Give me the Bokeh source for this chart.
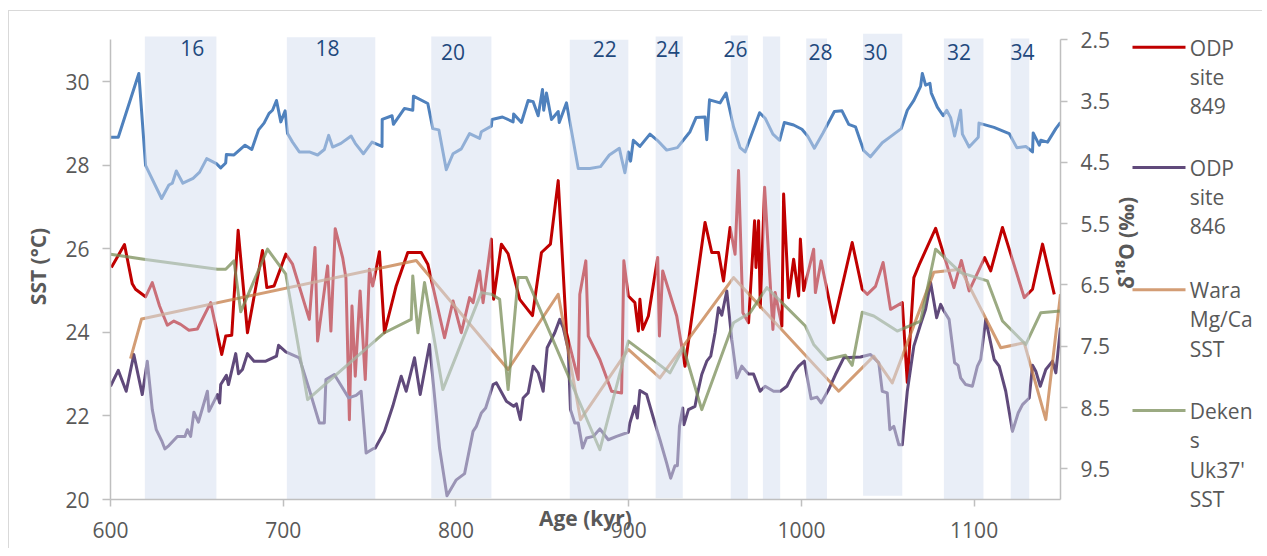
import math
from bokeh.plotting import figure
from bokeh.layouts import row
from bokeh.models import Range1d, LinearAxis, FixedTicker
from bokeh.core.properties import value
from bokeh.embed import file_html
from bokeh.resources import INLINE

# ---------------- data ----------------
d18o_age = [600.0, 604.5, 616.4, 620.3, 629.6, 633.8, 635.8, 638.1, 641.9, 647.8, 651.6, 655.7, 661.3, 663.8,
            666.7, 667.1, 671.5, 677.9, 681.8, 685.7, 688.9, 691.8, 693.8, 696.1, 698.6, 701.1, 702.5, 705.4,
            709.3, 715.1, 719.9, 723.8, 726.3, 728.6, 733.4, 739.3, 741.7, 746.4, 751.4, 757.2, 757.3, 763.0,
            763.8, 770.2, 775.0, 775.4, 783.7, 786.6, 790.1, 794.4, 798.3, 803.1, 807.9, 813.7, 814.7, 820.5,
            820.9, 826.9, 833.1, 833.4, 837.9, 841.8, 844.7, 847.6, 850.1, 850.8, 852.4, 855.3, 859.2, 859.8,
            864.0, 870.8, 877.5, 883.7, 888.8, 894.6, 895.9, 897.8, 899.8, 901.1, 902.7, 906.5, 912.3, 916.6,
            922.0, 928.2, 935.5, 939.0, 944.2, 945.2, 946.8, 952.9, 956.4, 960.7, 964.5, 967.4, 975.8, 979.0,
            983.5, 987.4, 990.1, 995.5, 1000.3, 1003.6, 1007.5, 1012.5, 1019.1, 1023.5, 1027.4, 1031.3, 1036.1,
            1040.0, 1046.8, 1051.6, 1057.8, 1061.3, 1065.1, 1069.0, 1070.0, 1071.9, 1074.4, 1075.2, 1078.7,
            1082.1, 1084.1, 1086.4, 1088.7, 1092.2, 1093.2, 1097.1, 1102.4, 1102.8, 1111.5, 1120.3, 1124.7,
            1129.9, 1133.8, 1134.2, 1137.7, 1138.6, 1142.5, 1147.3, 1150.0]
d18o = [4.09, 4.09, 3.05, 4.55, 5.09, 4.87, 4.84, 4.64, 4.84, 4.76, 4.66, 4.44, 4.52, 4.59,
        4.51, 4.37, 4.38, 4.22, 4.29, 3.97, 3.86, 3.70, 3.65, 3.49, 3.84, 3.66, 4.03, 4.17,
        4.33, 4.33, 4.38, 4.29, 4.06, 4.25, 4.19, 4.07, 4.19, 4.36, 4.17, 4.24, 3.80, 3.74,
        3.88, 3.62, 3.65, 3.42, 3.54, 3.95, 3.97, 4.62, 4.36, 4.28, 4.03, 4.11, 4.00, 3.91,
        3.80, 3.76, 3.84, 3.71, 3.85, 3.49, 3.51, 3.74, 3.31, 3.65, 3.37, 3.80, 3.67, 3.85,
        3.53, 4.60, 4.60, 4.57, 4.38, 4.27, 4.44, 4.67, 4.33, 4.48, 4.14, 4.24, 4.04, 4.14,
        4.30, 4.26, 4.00, 3.77, 3.76, 4.13, 3.48, 3.53, 3.37, 3.92, 4.26, 4.33, 3.69, 3.78,
        4.04, 4.14, 3.85, 3.89, 3.96, 4.07, 4.27, 4.02, 3.67, 3.66, 3.88, 3.92, 4.31,
        4.41, 4.18, 4.08, 3.95, 3.65, 3.49, 3.26, 3.05, 3.24, 3.21, 3.37, 3.60,
        3.74, 3.65, 3.77, 4.07, 3.65, 4.04, 4.25, 4.09, 3.86, 3.93, 4.03, 4.26,
        4.24, 4.33, 4.02, 4.22, 4.14, 4.17, 3.95, 3.85]

odp849_age = [600.5, 608.1, 612.6, 614.5, 620.3, 624.2, 628.4, 632.9, 636.7, 640.6, 645.4, 650.3, 658.0, 664.4,
              666.7, 670.2, 673.9, 679.3, 688.0, 690.5, 694.7, 701.5, 705.4, 715.1, 718.4, 719.9, 725.7, 727.6,
              730.1, 734.4, 736.3, 738.3, 739.8, 741.7, 744.5, 747.5, 749.9, 751.8, 755.7, 758.6, 765.4, 772.1,
              779.9, 783.7, 793.4, 798.3, 803.1, 807.9, 809.9, 813.7, 815.7, 820.5, 821.8, 826.3, 830.2, 836.9,
              844.3, 849.5, 854.7, 859.2, 864.0, 870.8, 871.7, 875.2, 876.6, 883.3, 890.1, 895.9, 897.2, 899.8,
              903.6, 905.6, 906.5, 908.1, 911.4, 916.8, 917.8, 919.7, 927.8, 932.6, 944.2, 948.1, 952.0, 954.9,
              958.7, 961.6, 963.6, 966.1, 969.4, 972.9, 973.7, 975.2, 976.2, 978.7, 983.5, 984.8, 988.7, 989.7,
              992.6, 995.5, 998.4, 999.4, 1001.3, 1007.1, 1008.1, 1011.4, 1018.7, 1029.4, 1035.2, 1038.1,
              1042.9, 1047.3, 1051.6, 1058.4, 1061.3, 1065.1, 1068.0, 1077.7, 1088.3, 1092.6, 1097.1,
              1106.1, 1109.6, 1116.4, 1129.0, 1133.8, 1139.6, 1146.4]
odp849 = [25.55, 26.10, 25.16, 25.03, 24.85, 25.19, 24.63, 24.17, 24.27, 24.19, 24.05, 24.08, 24.71, 23.47,
          23.91, 23.93, 26.44, 23.99, 25.96, 25.07, 25.11, 25.87, 25.63, 24.31, 26.03, 23.79, 25.59, 24.03,
          26.48, 25.79, 25.30, 21.91, 24.63, 22.95, 24.99, 22.87, 25.51, 25.11, 25.93, 23.99, 25.11, 25.91,
          25.91, 25.63, 23.87, 24.75, 23.99, 24.83, 24.71, 25.47, 24.71, 26.23, 24.79, 26.11, 25.88, 24.79,
          24.40, 25.91, 26.11, 27.63, 23.99, 22.87, 24.91, 25.71, 23.91, 23.35, 22.59, 22.55, 25.71, 24.87,
          24.71, 24.03, 24.79, 24.07, 24.39, 25.79, 23.91, 25.47, 24.39, 23.19, 26.63, 25.91, 25.91, 25.23,
          26.51, 25.87, 27.87, 24.47, 24.23, 26.67, 25.55, 26.67, 24.60, 27.47, 24.07, 24.95, 24.15, 27.31,
          24.83, 25.75, 24.87, 26.23, 25.00, 25.99, 24.95, 25.71, 24.23, 26.15, 25.03, 24.91,
          25.10, 25.67, 24.55, 24.71, 22.80, 25.31, 25.60, 26.49, 25.07, 25.72, 24.99,
          25.79, 25.47, 26.51, 24.83, 25.03, 26.11, 24.91]

odp846_age = [600.0, 604.5, 609.1, 613.5, 618.4, 621.3, 624.2, 626.5, 629.6, 631.5, 633.8, 638.7, 643.1, 644.5,
              646.4, 648.3, 650.9, 656.1, 657.0, 661.9, 663.2, 663.8, 667.1, 668.3, 672.5, 674.1, 676.4, 679.3,
              683.1, 689.9, 696.1, 697.3, 701.5, 709.3, 715.1, 720.9, 723.8, 724.7, 729.6, 737.9, 742.2, 745.1,
              748.0, 751.8, 753.3, 758.6, 763.4, 768.3, 771.2, 776.0, 779.3, 784.7, 790.5, 794.8, 800.2, 805.0,
              809.9, 811.8, 814.7, 817.2, 821.5, 823.4, 829.2, 833.4, 835.0, 837.3, 838.9, 841.8, 844.7, 847.6,
              850.5, 852.8, 857.2, 860.1, 862.1, 865.0, 866.3, 868.8, 870.8, 873.3, 875.6, 879.5, 883.3, 888.2,
              893.0, 899.8, 900.7, 903.6, 905.0, 906.5, 910.4, 914.3, 918.1, 922.0, 924.3, 926.8, 928.2, 929.4,
              931.3, 932.0, 934.6, 938.4, 939.4, 942.3, 945.2, 947.5, 950.0, 952.0, 953.9, 956.8, 959.7, 962.6,
              965.5, 969.4, 972.3, 976.1, 979.0, 983.9, 987.8, 991.6, 995.5, 998.4, 1001.7, 1005.6, 1009.0,
              1011.4, 1015.8, 1019.7, 1024.5, 1034.2, 1040.0, 1044.8, 1046.8, 1049.7, 1051.2, 1053.5, 1056.4,
              1058.4, 1061.3, 1065.1, 1069.0, 1071.9, 1074.8, 1078.3, 1080.6, 1082.5, 1085.5, 1088.7, 1090.7,
              1092.2, 1095.1, 1099.0, 1101.9, 1103.8, 1106.7, 1111.6, 1114.5, 1118.3, 1122.2, 1125.5, 1128.0,
              1131.9, 1133.8, 1135.7, 1138.3, 1141.5, 1145.4, 1147.3, 1150.0]
odp846 = [22.71, 23.09, 22.59, 23.47, 22.51, 23.31, 22.15, 21.67, 21.41, 21.21, 21.29, 21.51, 21.51, 21.67,
          21.51, 22.09, 21.85, 22.59, 22.11, 22.51, 22.31, 22.75, 22.97, 22.75, 23.49, 23.01, 23.11, 23.49,
          23.31, 23.31, 23.43, 23.69, 23.53, 23.39, 22.63, 21.83, 21.83, 22.87, 22.99, 22.43, 22.49, 22.59,
          21.11, 21.21, 21.23, 21.63, 22.23, 22.95, 22.59, 23.39, 22.51, 23.71, 21.23, 20.09, 20.47, 20.62,
          21.63, 21.75, 22.07, 22.19, 22.75, 22.79, 22.35, 22.23, 22.29, 21.91, 22.43, 22.55, 23.19, 23.03,
          22.59, 23.63, 23.99, 24.31, 24.11, 23.59, 22.15, 21.83, 21.83, 21.23, 21.47, 21.51, 21.69, 21.43,
          21.51, 21.61, 21.83, 22.23, 21.95, 22.61, 22.51, 21.95, 21.43, 20.87, 20.51, 20.81, 20.81, 21.75,
          22.19, 21.79, 22.15, 22.23, 22.45, 22.99, 23.31, 23.43, 23.99, 24.59, 24.41, 24.99, 23.83, 22.91,
          23.19, 23.00, 23.00, 22.59, 22.71, 22.59, 22.59, 22.71, 23.03, 23.19, 23.31, 22.41, 22.45,
          22.31, 22.63, 22.99, 23.39, 23.41, 23.47, 23.27, 22.59, 22.55, 21.67, 21.75, 21.31,
          21.31, 22.59, 23.67, 24.19, 24.55, 25.19, 24.35, 24.67, 24.51, 24.31, 23.27, 23.21,
          22.91, 22.75, 22.71, 23.19, 23.35, 24.31, 23.35, 23.19, 22.59, 21.63, 22.07, 22.27,
          22.43, 23.21, 23.07, 22.71, 23.11, 23.31, 23.03, 24.11]

wara_age = [611.6, 618.0, 777.0, 830.2, 859.2, 872.1, 899.8, 918.1, 960.7, 1021.6, 1041.9, 1052.6, 1076.7,
            1092.2, 1115.4, 1129.0, 1141.5, 1150.0]
wara = [23.37, 24.32, 25.72, 23.11, 24.91, 21.91, 23.59, 22.91, 25.31, 22.59, 23.43, 22.79, 25.44,
        25.51, 23.63, 23.75, 21.91, 24.91]

dekens_age = [600.0, 619.3, 661.9, 666.7, 671.5, 675.4, 690.9, 701.5, 714.1, 758.6, 774.1, 775.0, 778.0, 781.8,
              792.4, 814.7, 820.5, 825.3, 830.2, 836.0, 840.8, 883.3, 899.8, 911.4, 923.9, 931.7, 942.3, 960.7,
              970.3, 980.0, 1002.3, 1007.1, 1014.8, 1025.5, 1029.4, 1035.2, 1041.9, 1055.5, 1069.0, 1077.7,
              1092.2, 1107.7, 1116.4, 1129.9, 1138.6, 1150.0]
dekens = [25.87, 25.75, 25.51, 25.51, 25.71, 24.49, 25.99, 25.39, 22.39, 23.99, 24.31, 25.35, 23.99, 25.19,
          22.63, 24.95, 24.91, 24.79, 22.63, 25.31, 25.31, 21.19, 23.79, 23.43, 23.03, 23.63, 22.15, 24.23,
          24.47, 25.07, 24.15, 23.71, 23.35, 23.45, 23.21, 24.48, 24.39, 24.03, 24.27, 25.99,
          25.43, 25.23, 24.27, 23.71, 24.47, 24.51]

# glacial stages (MIS) shading
mis_start = [619.9, 702.1, 785.7, 865.9, 915.6, 959.1, 977.7, 1002.8, 1035.7, 1082.5, 1121.2]
mis_end = [661.3, 753.3, 820.5, 899.8, 931.3, 969.0, 987.7, 1014.8, 1058.4, 1105.4, 1131.9]
mis_top = [31.08, 31.06, 31.08, 31.00, 31.08, 31.10, 31.08, 31.03, 31.15, 31.03, 31.03]
mis_bottom = [20.0, 20.0, 20.03, 20.0, 20.03, 20.0, 20.0, 20.0, 20.09, 20.0, 20.0]
mis_label = ["16", "18", "20", "22", "24", "26", "28", "30", "32", "34"]
mis_label_x = [647.4, 725.7, 798.3, 886.2, 922.6, 961.9, 1011.0, 1042.9, 1091.3, 1128.0]
mis_label_y = [30.80, 30.80, 30.70, 30.79, 30.79, 30.79, 30.70, 30.70, 30.70, 30.70]

x_ticks = [600, 700, 800, 900, 1000, 1100]
sst_ticks = [20, 22, 24, 26, 28, 30]
d18o_ticks = [2.5, 3.5, 4.5, 5.5, 6.5, 7.5, 8.5, 9.5]

series_names = ["ODP\nsite\n849", "ODP\nsite\n846", "Wara\nMg/Ca\nSST", "Deken\ns\nUk37'\nSST"]

for a, b in [(d18o_age, d18o), (odp849_age, odp849), (odp846_age, odp846), (wara_age, wara), (dekens_age, dekens)]:
    assert len(a) == len(b), (len(a), len(b))
assert len(mis_start) == len(mis_end) == len(mis_top) == len(mis_bottom)
assert len(mis_label) == len(mis_label_x) == len(mis_label_y)

# ---------------- style ----------------
FONT = "Open Sans"
TXT = "#595959"
AXC = "#bfbfbf"
C_BLUE = "#4f81bd"
C_RED = "#c00000"
C_PURPLE = "#604a7b"
C_TAN = "#c47c47"
C_GREEN = "#7a8e58"
series_colors = [C_RED, C_PURPLE, C_TAN, C_GREEN]
series_alpha = [1.0, 1.0, 0.75, 0.75]

p = figure(output_backend="svg", toolbar_location=None,
           frame_width=949, frame_height=465,
           min_border_left=101, min_border_top=22, min_border_right=54, min_border_bottom=50,
           x_range=Range1d(600, 1150), y_range=Range1d(20, 31.15),
           background_fill_color="white", border_fill_color="white", outline_line_color=None)
p.styles = {"margin-left": "8px", "margin-top": "10px",
            "border-top": "1px solid #d9d9d9", "border-left": "1px solid #d9d9d9"}
p.align = "start"
p.grid.visible = False
p.extra_y_ranges = {"d18o": Range1d(10, 2.398)}


def style_axis(ax):
    ax.axis_line_color = AXC
    ax.axis_line_width = 1.5
    ax.major_tick_line_color = AXC
    ax.major_tick_line_width = 1.5
    ax.major_tick_in = 0
    ax.major_tick_out = 7
    ax.minor_tick_line_color = None
    ax.major_label_text_font = FONT
    ax.major_label_text_font_size = "21px"
    ax.major_label_text_color = TXT
    ax.major_label_standoff = 13
    ax.axis_label_text_font = FONT
    ax.axis_label_text_font_size = "21px"
    ax.axis_label_text_font_style = "bold"
    ax.axis_label_text_color = TXT


xa = p.xaxis[0]
style_axis(xa)
xa.ticker = FixedTicker(ticks=x_ticks)
xa.bounds = (600, 1150)
xa.major_label_standoff = 15
xa.axis_label = "Age (kyr)"
xa.axis_label_standoff = -37

ya = p.yaxis[0]
style_axis(ya)
ya.ticker = FixedTicker(ticks=sst_ticks)
ya.bounds = (20, 31)
ya.major_tick_out = 8
ya.axis_label = "SST (°C)"
ya.axis_label_standoff = 10

ra = LinearAxis(y_range_name="d18o", ticker=FixedTicker(ticks=d18o_ticks), bounds=(2.5, 10))
style_axis(ra)
p.add_layout(ra, "right")

# ---------------- series ----------------
p.line(d18o_age, d18o, y_range_name="d18o", line_color=C_BLUE, line_width=3, line_join="round")
p.line(odp849_age, odp849, line_color=C_RED, line_width=3, line_join="round")
p.line(odp846_age, odp846, line_color=C_PURPLE, line_width=3, line_join="round")
p.line(wara_age, wara, line_color=C_TAN, line_alpha=0.75, line_width=3, line_join="round")
p.line(dekens_age, dekens, line_color=C_GREEN, line_alpha=0.75, line_width=3, line_join="round")

# translucent glacial-stage bands drawn over the curves
p.quad(left=mis_start, right=mis_end, top=mis_top, bottom=mis_bottom,
       fill_color="#d3ddef", fill_alpha=0.5, line_color=None)
p.text(x=mis_label_x, y=mis_label_y, text=mis_label, text_font=value(FONT), text_font_size="21px",
       text_color="#1f497d", text_align="center", text_baseline="middle")

# ---------------- side panel: right-axis title + legend (page pixel coordinates) ----------------
LX0, LX1 = 1113, 1262
FTOP, BOT = 33, 548
lg = figure(output_backend="svg", toolbar_location=None,
            frame_width=LX1 - LX0, frame_height=BOT - FTOP,
            min_border_left=0, min_border_right=0, min_border_top=22, min_border_bottom=0,
            x_range=Range1d(LX0, LX1), y_range=Range1d(BOT, FTOP),
            x_axis_type=None, y_axis_type=None,
            background_fill_color="white", border_fill_color="white", outline_line_color=None)
lg.styles = {"margin-top": "10px", "border-top": "1px solid #d9d9d9"}
lg.align = "start"
lg.grid.visible = False

lg.text(x=[1125], y=[242], text=["δ¹⁸O (‰)"], angle=math.pi / 2, text_font=value(FONT),
        text_font_size="21px", text_font_style="bold", text_color=TXT,
        text_align="center", text_baseline="middle")

key_y = [46.7, 166.7, 288.7, 409.3]
line_step = 29.3
for name, col, alp, ky in zip(series_names, series_colors, series_alpha, key_y):
    lg.segment(x0=[1132], y0=[ky], x1=[1185], y1=[ky], line_color=col, line_alpha=alp, line_width=3)
    parts = name.split("\n")
    lg.text(x=[1189.3] * len(parts), y=[ky + 0.3 + i * line_step for i in range(len(parts))], text=parts,
            text_font=value(FONT), text_font_size="21px", text_color=TXT,
            text_align="left", text_baseline="middle")

layout = row(p, lg)
open("out.html", "w").write(file_html(layout, INLINE))
